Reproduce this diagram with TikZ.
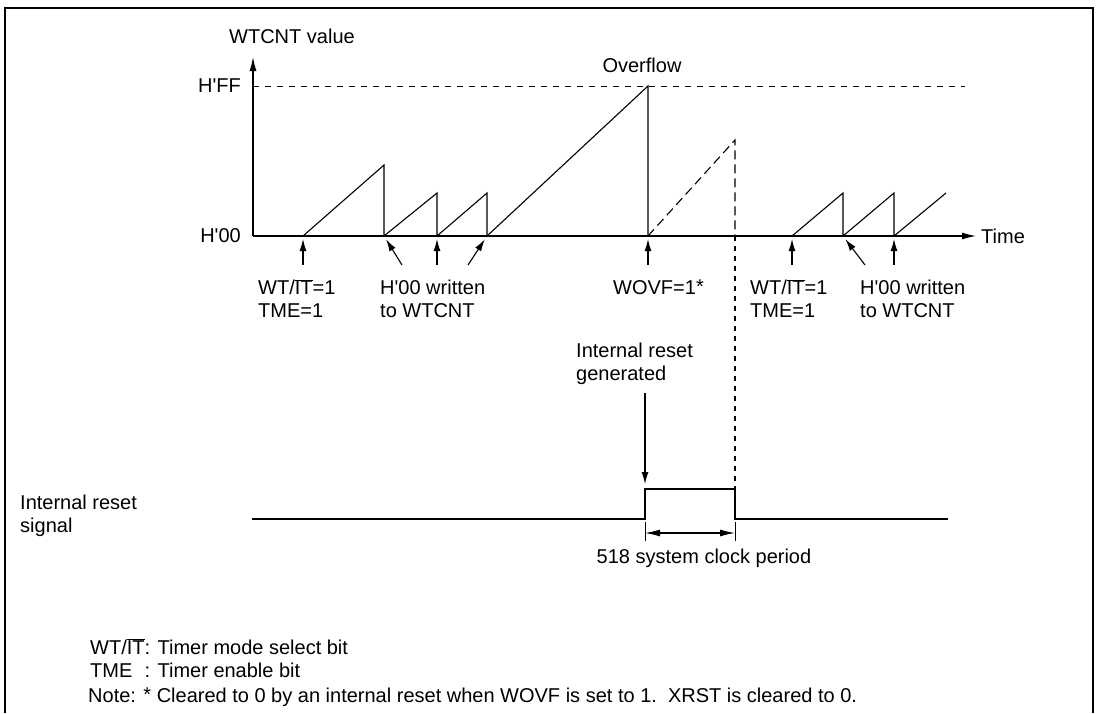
\documentclass[tikz,border=0pt]{standalone}
\usepackage{fontspec}
\setmainfont{Liberation Sans}
\newfontfamily\wdtfont{Liberation Sans}
\usetikzlibrary{positioning,arrows.meta}
\newcommand\astr{\raisebox{1pt}{*}}
\newcommand\wtit{WT/$\overline{\mbox{IT}}$}
\tikzset{
  % --- text ------------------------------------------------------------------
  txt/.style={font=\wdtfont\fontsize{20}{23}\selectfont,inner sep=0pt},
  % --- lines -----------------------------------------------------------------
  frame/.style={line width=2pt},
  axis/.style={line width=1.2pt,-{Latex[length=14pt,width=7pt]}},
  wave/.style={line width=1.1pt},
  guide/.style={line width=0.9pt,dash pattern=on 6pt off 6pt},
  lost/.style={line width=1.1pt,dash pattern=on 9pt off 5pt},
  drop/.style={line width=1.1pt,dash pattern=on 5pt off 5pt},
  ptr/.style={line width=1.1pt,-{Latex[length=12pt,width=7pt]}},
  dim/.style={line width=1.1pt,{Latex[length=15pt,width=7pt]}-{Latex[length=15pt,width=7pt]}},
}
\begin{document}
\begin{tikzpicture}[x=1pt,y=-1pt]
  \useasboundingbox (0,0) rectangle (1100,713);
  \draw[frame] (5,713) -- (5,7.5) -- (1093,7.5) -- (1093,713);

  % --- axes ------------------------------------------------------------------
  \coordinate (O)     at (253,236);
  \coordinate (ytop)  at (253,57);
  \coordinate (xend)  at (976,236);
  \coordinate (ff)    at (253,86);
  \coordinate (ffend) at (965,86);
  \draw[axis] (O) -- (ytop);
  \draw[axis] (O) -- (xend);
  \draw[guide] (ff) -- (ffend);
  \node[txt,anchor=east] (lff) at (241,86)  {H'FF};
  \node[txt,anchor=east] (l00) at (241,236) {H'00};
  \node[txt,anchor=west] (ylab) at (229,36) {WTCNT value};
  \node[txt,anchor=west,right=5pt of xend] (xlab) {Time};
  \node[txt] (ovf) at (642,65) {Overflow};

  % --- counter value ---------------------------------------------------------
  \coordinate (r1s) at (303,236);
  \coordinate (r1p) at (384,165);
  \coordinate (r1e) at (384,236);
  \coordinate (r2p) at (437,193);
  \coordinate (r2e) at (437,236);
  \coordinate (r3p) at (487,193);
  \coordinate (r3e) at (487,236);
  \coordinate (r4p) at (648,86);
  \coordinate (r4e) at (648,236);
  \coordinate (dp)  at (735,140);
  \coordinate (dx)  at (735,236);
  \coordinate (s1s) at (792,236);
  \coordinate (s1p) at (843,193);
  \coordinate (s1e) at (843,236);
  \coordinate (s2p) at (894,193);
  \coordinate (s2e) at (894,236);
  \coordinate (s3p) at (946,193);
  \draw[wave] (r1s) -- (r1p) -- (r1e) -- (r2p) -- (r2e) -- (r3p) -- (r3e) -- (r4p) -- (r4e);
  \draw[lost] (r4e) -- (dp) -- (dx);
  \draw[wave] (s1s) -- (s1p) -- (s1e) -- (s2p) -- (s2e) -- (s3p);

  % --- events ----------------------------------------------------------------
  \coordinate (p1) at (303,265);
  \coordinate (p2) at (402,265);
  \coordinate (p3) at (437,265);
  \coordinate (p4) at (468,265);
  \coordinate (p5) at (648,265);
  \coordinate (p6) at (792,265);
  \coordinate (p7) at (865,265);
  \coordinate (p8) at (894,265);
  \draw[ptr,shorten >=3pt] (p1) -- (r1s);
  \draw[ptr,shorten >=4pt] (p2) -- (r1e);
  \draw[ptr,shorten >=3pt] (p3) -- (r2e);
  \draw[ptr,shorten >=4pt] (p4) -- (r3e);
  \draw[ptr,shorten >=3pt] (p5) -- (r4e);
  \draw[ptr,shorten >=3pt] (p6) -- (s1s);
  \draw[ptr,shorten >=4pt] (p7) -- (s1e);
  \draw[ptr,shorten >=3pt] (p8) -- (s2e);
  \node[txt,align=left,anchor=west] (en1) at (258,298.5) {\wtit=1\\TME=1};
  \node[txt,align=left,anchor=west] (wr1) at (380,298.5) {H'00 written\\to WTCNT};
  \node[txt,anchor=west] (wovf) at (613,287) {WOVF=1\astr};
  \node[txt,align=left,anchor=west] (en2) at (750,298.5) {\wtit=1\\TME=1};
  \node[txt,align=left,anchor=west] (wr2) at (860,298.5) {H'00 written\\to WTCNT};

  % --- reset signal ----------------------------------------------------------
  \coordinate (sl)  at (252,519);
  \coordinate (pu1) at (645,519);
  \coordinate (pu2) at (645,489);
  \coordinate (pu3) at (735,489);
  \coordinate (pu4) at (735,519);
  \coordinate (sr)  at (948,519);
  \draw[wave] (sl) -- (pu1) -- (pu2) -- (pu3) -- (pu4) -- (sr);
  \draw[drop] (dx) -- (pu3);
  \node[txt,align=left,anchor=west] (gen) at (576,363.5) {Internal reset\\generated};
  \coordinate (g1) at (645,393);
  \draw[ptr,shorten >=5pt] (g1) -- (pu2);
  \node[txt,align=left,anchor=west] (sig) at (20,516) {Internal reset\\signal};
  \coordinate (k1) at (645,541);
  \coordinate (k2) at (735,541);
  \coordinate (d1) at (645,533);
  \coordinate (d2) at (735,533);
  \draw[line width=0.9pt,shorten <=3pt] (pu1) -- (k1);
  \draw[line width=0.9pt,shorten <=3pt] (pu4) -- (k2);
  \draw[dim] (d1) -- (d2);
  \node[txt] (clk) at (704,558) {518 system clock period};

  % --- key -------------------------------------------------------------------
  \node[txt,anchor=west] (key) at (90,661)
    {\begin{tabular}{@{}l@{}l}\wtit & : Timer mode select bit\\TME & : Timer enable bit\end{tabular}};
  \node[txt,anchor=west] (note) at (88,697)
    {Note: \astr\ Cleared to 0 by an internal reset when WOVF is set to 1.\ \ XRST is cleared to 0.};
\end{tikzpicture}
\end{document}
